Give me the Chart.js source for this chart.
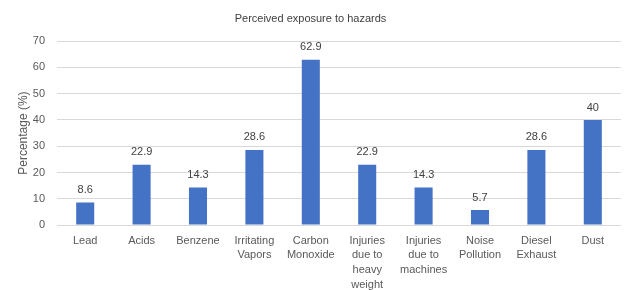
<!DOCTYPE html>
<html><head><meta charset="utf-8">
<script src="https://cdn.jsdelivr.net/npm/chart.js@4"></script>
<style>html,body{margin:0;padding:0;background:#fff}#wrap{width:625px;height:290px}</style>
</head><body><div id="wrap"><canvas id="c" width="625" height="290"></canvas></div>
<script>
const categories = [["Lead"],["Acids"],["Benzene"],["Irritating","Vapors"],["Carbon","Monoxide"],["Injuries","due to","heavy","weight"],["Injuries","due to","machines"],["Noise","Pollution"],["Diesel","Exhaust"],["Dust"]];
const values = [8.6,22.9,14.3,28.6,62.9,22.9,14.3,5.7,28.6,40];
const valueLabels = ["8.6","22.9","14.3","28.6","62.9","22.9","14.3","5.7","28.6","40"];
const yTicks = [0,10,20,30,40,50,60,70];
const chartTitle = "Perceived exposure to hazards";
const yTitle = "Percentage (%)";

const FONT = "'Liberation Sans', Arial, sans-serif";
const TXT = "#595959";

const labelPlugin = {
  id: 'valLabels',
  afterDatasetsDraw(chart) {
    const ctx = chart.ctx;
    const meta = chart.getDatasetMeta(0);
    ctx.save();
    ctx.font = "11px " + FONT;
    ctx.fillStyle = "#404040";
    ctx.textAlign = "center";
    ctx.textBaseline = "bottom";
    meta.data.forEach((bar, i) => {
      ctx.fillText(valueLabels[i], bar.x, bar.y - 7);
    });
    ctx.restore();
  }
};

new Chart(document.getElementById('c'), {
  type: 'bar',
  data: {
    labels: categories,
    datasets: [{ data: values, backgroundColor: '#4472C4', barPercentage: 0.64, categoryPercentage: 0.5 }]
  },
  options: {
    responsive: false,
    animation: false,
    devicePixelRatio: 1,
    layout: { padding: { left: 0, right: 4, top: 4, bottom: 0 } },
    plugins: {
      legend: { display: false },
      tooltip: { enabled: false },
      title: { display: true, text: chartTitle, color: '#404040', font: { family: FONT, size: 11, weight: 'normal' }, padding: { top: 8, bottom: 16 } }
    },
    scales: {
      x: {
        afterFit(axis) { axis.height = 65; },
        grid: { display: false, drawTicks: false },
        border: { display: false },
        ticks: { color: TXT, font: { family: FONT, size: 11, lineHeight: 1.36 }, padding: 8, maxRotation: 0, autoSkip: false }
      },
      y: {
        min: 0, max: 70,
        afterBuildTicks(axis) { axis.ticks = yTicks.map(v => ({ value: v })); },
        afterFit(axis) { axis.width = 57; },
        grid: { color: '#D9D9D9', drawTicks: false, lineWidth: 1 },
        border: { display: false },
        ticks: { color: TXT, font: { family: FONT, size: 11 }, padding: 12 },
        title: { display: true, text: yTitle, color: TXT, font: { family: FONT, size: 12 }, padding: { top: 16, bottom: 0 } }
      }
    }
  },
  plugins: [labelPlugin]
});
</script></body></html>
